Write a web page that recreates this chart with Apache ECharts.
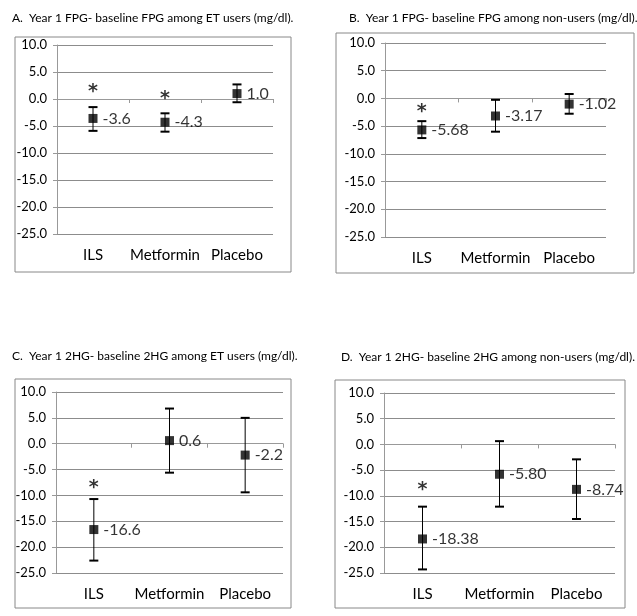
<!DOCTYPE html>
<html><head><meta charset="utf-8">
<script src="https://cdn.jsdelivr.net/npm/echarts@6/dist/echarts.min.js"></script>
<style>html,body{margin:0;padding:0;background:#fff}#c{width:637px;height:616px}</style>
</head><body><div id="c"></div>
<script>
const categories = ['ILS', 'Metformin', 'Placebo'];
const yTicks = { min: -25, max: 10, step: 5 };
const titles = [
  'A.  Year 1 FPG- baseline FPG among ET users (mg/dl).',
  'B.  Year 1 FPG- baseline FPG among non-users (mg/dl).',
  'C.  Year 1 2HG- baseline 2HG among ET users (mg/dl).',
  'D.  Year 1 2HG- baseline 2HG among non-users (mg/dl).'
];
const meanA = [-3.6, -4.3, 1.0];
const lowA = [-5.9, -6.05, -0.6];
const highA = [-1.5, -2.65, 2.7];
const starA = [2.2, 0.9, null];
const meanB = [-5.68, -3.17, -1.02];
const lowB = [-7.15, -6.0, -2.76];
const highB = [-4.1, -0.25, 0.8];
const starB = [-1.6, null, null];
const meanC = [-16.6, 0.6, -2.2];
const lowC = [-22.6, -5.6, -9.4];
const highC = [-10.7, 6.8, 5.0];
const starC = [-7.6, null, null];
const meanD = [-18.38, -5.80, -8.74];
const lowD = [-24.3, -12.1, -14.5];
const highD = [-12.1, 0.64, -2.9];
const starD = [-7.9, null, null];
const decimals = [1, 2, 1, 2];

const panels = [
  { mean: meanA, low: lowA, high: highA, star: starA },
  { mean: meanB, low: lowB, high: highB, star: starB },
  { mean: meanC, low: lowC, high: highC, star: starC },
  { mean: meanD, low: lowD, high: highD, star: starD }
];

const FONT = 'Lato';
const grids = [
  { left: 57, top: 45, width: 216, height: 189 },
  { left: 385, top: 43, width: 221, height: 194 },
  { left: 56, top: 392, width: 227, height: 181 },
  { left: 384, top: 393, width: 231, height: 180 }
];
const frames = [
  { x: 15, y: 37, w: 276, h: 235 },
  { x: 336, y: 33, w: 298, h: 240 },
  { x: 15, y: 379, w: 276, h: 229 },
  { x: 335, y: 380, w: 290, h: 228 }
];
const titlePos = [
  { left: 7, top: 7 },
  { left: 344, top: 7 },
  { left: 7, top: 345 },
  { left: 336, top: 346 }
];

const xAxis = [], yAxis = [], series = [], title = [];
panels.forEach((p, i) => {
  title.push({ text: titles[i], left: titlePos[i].left, top: titlePos[i].top,
    textStyle: { fontFamily: FONT, fontSize: 12, fontWeight: 'normal', color: '#000' } });
  xAxis.push({ type: 'category', gridIndex: i, data: categories, boundaryGap: true,
    axisLine: { lineStyle: { color: '#999', width: 1 } },
    axisTick: { show: true, length: 4, interval: 0, lineStyle: { color: '#999' } },
    axisLabel: { fontFamily: FONT, fontSize: 15, color: '#000', margin: 14, interval: 0 },
    splitLine: { show: false } });
  yAxis.push({ type: 'value', gridIndex: i, min: yTicks.min, max: yTicks.max, interval: yTicks.step,
    axisLine: { show: true, lineStyle: { color: '#999', width: 1 } },
    axisTick: { show: true, length: 4, lineStyle: { color: '#999' } },
    axisLabel: { fontFamily: FONT, fontSize: 13, color: '#000', margin: 10,
      formatter: v => v.toFixed(1) },
    splitLine: { show: true, lineStyle: { color: '#8c8c8c', width: 1 } } });
  series.push({
    type: 'custom', xAxisIndex: i, yAxisIndex: i,
    data: categories.map((c, k) => [k, p.low[k], p.high[k]]),
    renderItem: (params, api) => {
      const x = api.value(0);
      const lo = api.coord([x, api.value(1)]);
      const hi = api.coord([x, api.value(2)]);
      const hw = 4.5;
      return { type: 'group', children: [
        { type: 'line', shape: { x1: lo[0], y1: lo[1], x2: hi[0], y2: hi[1] }, style: { stroke: '#000', lineWidth: 1 } },
        { type: 'line', shape: { x1: lo[0] - hw, y1: lo[1], x2: lo[0] + hw, y2: lo[1] }, style: { stroke: '#000', lineWidth: 2 } },
        { type: 'line', shape: { x1: hi[0] - hw, y1: hi[1], x2: hi[0] + hw, y2: hi[1] }, style: { stroke: '#000', lineWidth: 2 } }
      ] };
    },
    z: 3
  });
  series.push({
    type: 'scatter', xAxisIndex: i, yAxisIndex: i, symbol: 'rect', symbolSize: 9,
    itemStyle: { color: '#000' },
    data: categories.map((c, k) => [k, p.mean[k]]),
    label: { show: true, position: 'right', distance: 5, fontFamily: FONT, fontSize: 16, color: '#000',
      formatter: prm => prm.value[1].toFixed(decimals[i]) },
    z: 4
  });
  series.push({
    type: 'scatter', xAxisIndex: i, yAxisIndex: i, symbolSize: 0, silent: true,
    data: categories.map((c, k) => [k, p.star[k]]).filter(d => d[1] !== null),
    label: { show: true, position: 'inside', formatter: '*', fontFamily: 'DejaVu Sans', fontSize: 19,
      fontWeight: 'bold', color: '#000', offset: [0, 5] },
    z: 4
  });
});

const graphic = frames.map(f => ({ type: 'rect', shape: { x: f.x, y: f.y, width: f.w, height: f.h },
  style: { fill: 'none', stroke: '#888', lineWidth: 1 }, silent: true, z: -1 }));

const chart = echarts.init(document.getElementById('c'), null, { renderer: 'canvas' });
chart.setOption({
  animation: false,
  backgroundColor: '#fff',
  title, graphic, grid: grids, xAxis, yAxis, series
});
</script></body></html>
